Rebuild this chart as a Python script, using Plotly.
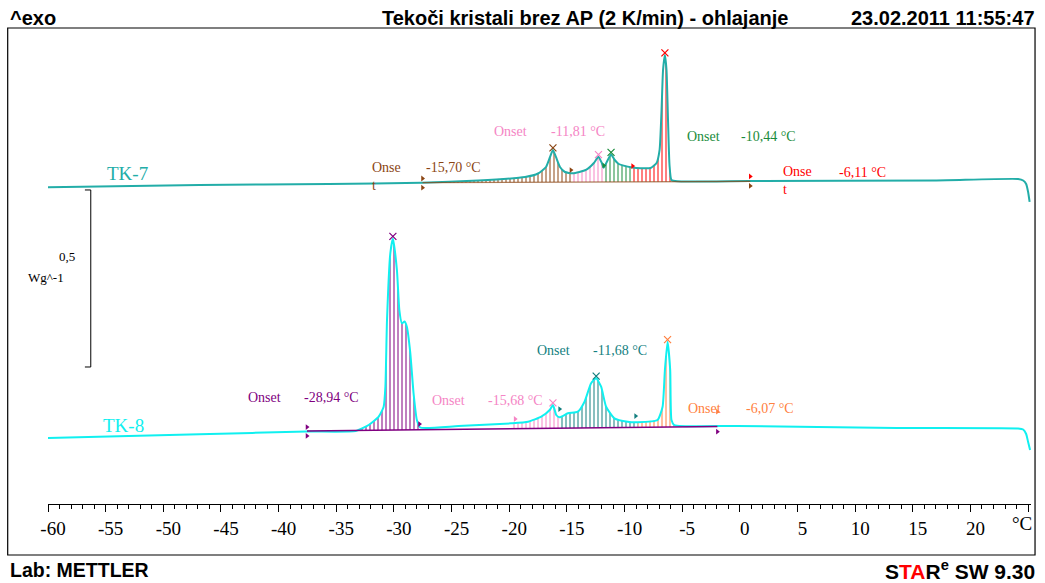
import plotly.graph_objects as go
import numpy as np

# ---------------- data (temperature in °C, heat flow in W/g, shifted for display) -------------
tk7_temp = [-60.0, -46.87, -35.64, -27.61, -22.68, -18.62, -17.50, -16.81, -16.46, -16.21, -15.95,
            -15.60, -15.17, -14.48, -13.35, -12.66, -12.26, -11.97, -11.80, -11.54, -11.17, -10.85,
            -10.50, -9.30, -8.60, -7.74, -7.22, -6.96, -6.79, -6.66, -6.50, -6.36, -6.23, -6.10,
            -5.93, -5.41, 0.81, 17.05, 24.13, 24.57, 24.83, 25.0, 25.13]
tk7_hf = [0.7082, 0.7147, 0.7175, 0.7212, 0.7274, 0.7373, 0.7472, 0.7655, 0.7938, 0.8136, 0.7938,
          0.7655, 0.7514, 0.7477, 0.7571, 0.7768, 0.7946, 0.7768, 0.7636, 0.7797, 0.8008, 0.7853,
          0.7740, 0.7641, 0.7619, 0.7627, 0.7768, 0.8136, 0.9266, 1.0395, 1.0819, 1.0395, 0.8983,
          0.7712, 0.7288, 0.7251, 0.7260, 0.7277, 0.7316, 0.7274, 0.7175, 0.6949, 0.6667]

tk8_temp = [-60.0, -46.87, -37.54, -33.31, -32.19, -31.32, -30.89, -30.74, -30.60, -30.31, -30.09,
            -29.74, -29.53, -29.31, -29.08, -28.88, -28.58, -28.30, -28.01, -27.72, -24.41, -19.83,
            -18.36, -17.22, -16.49, -16.21, -15.92, -15.63, -14.91, -14.05, -13.47, -12.90, -12.46,
            -12.03, -11.60, -10.88, -9.73, -8.86, -7.14, -6.70, -6.50, -6.27, -6.04, -5.93, -5.69,
            -0.23, 13.60, 24.13, 24.57, 24.83, 25.0, 25.17]
tk8_hf = [0.0, 0.0105, 0.0184, 0.0198, 0.0367, 0.0602, 0.0884, 0.1449, 0.3333, 0.5226, 0.5636,
          0.4746, 0.3616, 0.3240, 0.3291, 0.3144, 0.2401, 0.1271, 0.0508, 0.0297, 0.0339, 0.0415,
          0.0460, 0.0602, 0.0791, 0.0932, 0.0650, 0.0585, 0.0698, 0.0743, 0.1025, 0.1545, 0.1686,
          0.1449, 0.0884, 0.0556, 0.0460, 0.0446, 0.0508, 0.0884, 0.1921, 0.2720, 0.1921, 0.0508,
          0.0367, 0.0339, 0.0282, 0.0268, 0.0240, 0.0113, -0.0113, -0.0339]

# integration baselines (start / end)
tk7_base_temp = [-27.52, 0.90]
tk7_base_hf = [0.7212, 0.7251]
tk8_base_temp = [-37.54, -1.95]
tk8_base_hf = [0.0198, 0.0325]

# evaluated peak regions (index ranges into the curves) and colours
tk7_regions = [(3, 13), (13, 18), (18, 23), (23, 34)]
tk7_colors = ["#8B4513", "#F585C5", "#1A8C3C", "#FF0000"]
tk8_regions = [(2, 19), (21, 27), (27, 37), (37, 44)]
tk8_colors = ["#800080", "#F585C5", "#137F7F", "#FF8040"]

tk7_onsets = ["-15,70 °C", "-11,81 °C", "-10,44 °C", "-6,11 °C"]
tk8_onsets = ["-28,94 °C", "-15,68 °C", "-11,68 °C", "-6,07 °C"]

scale_bar_value = 0.5  # W/g

tick_vals = list(range(-60, 26, 5))
tick_text = ["-60", "-55", "-50", "-45", "-40", "-35", "-30", "-25", "-20", "-15", "-10",
             "-5", "0", "5", "10", "15", "20", " "]

TK7_COLOR = "#22ADA8"
TK8_COLOR = "#10F0F0"
SERIF = "Liberation Serif, Times New Roman, serif"
SANS = "Liberation Sans, Arial, sans-serif"

fig = go.Figure()


def add_regions(temp, hf, btemp, bhf, regions, colors):
    for (i0, i1), col in zip(regions, colors):
        xs = temp[i0:i1 + 1]
        ys = hf[i0:i1 + 1]
        bx = [xs[0], xs[-1]]
        by = list(np.interp(bx, btemp, bhf))
        fig.add_trace(go.Scatter(x=bx, y=by, mode="lines", line=dict(width=0, color=col),
                                 hoverinfo="skip"))
        fig.add_trace(go.Scatter(x=xs, y=ys, mode="lines", line=dict(width=0, color=col),
                                 fill="tonexty", fillcolor="rgba(0,0,0,0)",
                                 fillpattern=dict(shape="|", fgcolor=col, bgcolor="rgba(0,0,0,0)",
                                                  size=4, solidity=0.5),
                                 hoverinfo="skip"))


add_regions(tk7_temp, tk7_hf, tk7_base_temp, tk7_base_hf, tk7_regions, tk7_colors)
add_regions(tk8_temp, tk8_hf, tk8_base_temp, tk8_base_hf, tk8_regions, tk8_colors)

# curves
fig.add_trace(go.Scatter(x=tk7_temp, y=tk7_hf, mode="lines",
                         line=dict(color=TK7_COLOR, width=2, shape="spline", smoothing=0.5)))
fig.add_trace(go.Scatter(x=tk8_temp, y=tk8_hf, mode="lines",
                         line=dict(color=TK8_COLOR, width=2, shape="spline", smoothing=0.5)))

# baselines
fig.add_trace(go.Scatter(x=tk7_base_temp, y=tk7_base_hf, mode="lines",
                         line=dict(color="#8B4513", width=1.3), opacity=0.7))
fig.add_trace(go.Scatter(x=tk8_base_temp, y=tk8_base_hf, mode="lines",
                         line=dict(color="#800080", width=1.6)))

# peak markers
for temp, hf, regions, colors in [(tk7_temp, tk7_hf, tk7_regions, tk7_colors),
                                  (tk8_temp, tk8_hf, tk8_regions, tk8_colors)]:
    for (i0, i1), col in zip(regions, colors):
        seg = hf[i0:i1 + 1]
        k = i0 + int(np.argmax(seg))
        fig.add_trace(go.Scatter(x=[temp[k]], y=[hf[k] + 0.006], mode="markers",
                                 marker=dict(symbol="x-thin", size=7, line=dict(color=col, width=1.2))))

# integration limit flags
flag_t = [-27.52, -27.52, -14.65, -11.80, -9.30, 0.90, 0.90,
          -37.54, -37.54, -27.78, -19.49, -15.63, -9.04, -1.95, -1.95]
flag_v = [0.733, 0.707, 0.757, 0.770, 0.768, 0.739, 0.712,
          0.031, 0.006, 0.0395, 0.0537, 0.0819, 0.0621, 0.0743, 0.0178]
flag_c = ["#8B4513", "#8B4513", "#8B4513", "#1A8C3C", "#FF0000", "#FF0000", "#8B4513",
          "#800080", "#800080", "#800080", "#F585C5", "#137F7F", "#137F7F", "#FF8040", "#800080"]
fig.add_trace(go.Scatter(x=flag_t, y=flag_v, mode="markers",
                         marker=dict(symbol="triangle-right", size=5, color=flag_c)))

# scale bar 0.5 W/g
sb_x = [-56.80, -56.29, -56.29, -56.80]
sb_top = 0.7006
sb_y = [sb_top, sb_top, sb_top - scale_bar_value, sb_top - scale_bar_value]
fig.add_trace(go.Scatter(x=sb_x, y=sb_y, mode="lines", line=dict(color="black", width=1)))

ann = []


def txt(x, y, s, col, size=14, xanchor="left", family=SERIF, align="left"):
    ann.append(dict(x=x, y=y, text=s, showarrow=False, xanchor=xanchor, yanchor="middle",
                    font=dict(family=family, size=size, color=col), align=align))


# TK-7 onset labels
txt(-32.10, 0.7373, "Onse<br>t", tk7_colors[0])
txt(-27.40, 0.7655, tk7_onsets[0], tk7_colors[0])
txt(-21.47, 0.8672, "Onset", tk7_colors[1])
txt(-16.55, 0.8672, tk7_onsets[1], tk7_colors[1])
txt(-4.80, 0.8503, "Onset", tk7_colors[2])
txt(-0.10, 0.8503, tk7_onsets[2], tk7_colors[2])
txt(3.55, 0.7260, "Onse<br>t", tk7_colors[3])
txt(8.45, 0.7514, tk7_onsets[3], tk7_colors[3])
# TK-8 onset labels
txt(-42.85, 0.1158, "Onset", tk8_colors[0])
txt(-37.95, 0.1158, tk8_onsets[0], tk8_colors[0])
txt(-26.90, 0.1073, "Onset", tk8_colors[1])
txt(-22.05, 0.1073, tk8_onsets[1], tk8_colors[1])
txt(-17.80, 0.2486, "Onset", tk8_colors[2])
txt(-12.90, 0.2486, tk8_onsets[2], tk8_colors[2])
txt(-4.70, 0.0847, "Onset", tk8_colors[3])
txt(0.35, 0.0847, tk8_onsets[3], tk8_colors[3])

# curve names
txt(-53.09, 0.7458, "TK-7", TK7_COLOR, size=19, xanchor="center")
txt(-53.44, 0.0367, "TK-8", TK8_COLOR, size=19, xanchor="center")

# scale bar labels
txt(-58.36, 0.5141, "0,5", "black", size=13, xanchor="center")
ann.append(dict(x=(46 - 48) / 987, xref="paper", y=0.4520, yref="y", text="Wg^-1",
                showarrow=False, xanchor="center", yanchor="middle",
                font=dict(family=SERIF, size=13, color="black")))

# unit label at axis end
ann.append(dict(x=25.0, xref="x", y=-0.042, yref="paper", text="°C", showarrow=False,
                xanchor="right", yanchor="middle", xshift=6,
                font=dict(family=SERIF, size=19, color="black")))


# header / footer texts (paper coordinates)
def ptxt(x, y, s, size, xanchor):
    ann.append(dict(x=x, y=y, xref="paper", yref="paper", text=s, showarrow=False,
                    xanchor=xanchor, yanchor="middle",
                    font=dict(family=SANS, size=size, color="black")))


ptxt(-0.0405, 1.0253, "<b>^exo</b>", 20, "left")
ptxt(0.5460, 1.0253, "<b>Tekoči kristali brez AP (2 K/min) - ohlajanje</b>", 20, "center")
ptxt(1.0060, 1.0253, "<b>23.02.2011 11:55:47</b>", 20, "right")
ptxt(-0.0405, -0.1400, "<b>Lab: METTLER</b>", 19.5, "left")
ptxt(1.0060, -0.1390,
     "<b>S<span style='color:#FF0000'>TA</span>R<sup>e</sup> SW 9.30</b>", 21, "right")

fig.update_layout(
    width=1045, height=583,
    margin=dict(l=48, r=10, t=30, b=79),
    paper_bgcolor="white", plot_bgcolor="white",
    font=dict(family=SERIF, color="black"),
    showlegend=False,
    annotations=ann,
    shapes=[dict(type="rect", xref="paper", yref="paper", x0=-0.0410, x1=1.0041,
                 y0=-0.1076, y1=1.0042, line=dict(color="black", width=1.2))],
    xaxis=dict(range=[-60, 25.25], showgrid=False, zeroline=False, showline=True,
               linecolor="black", linewidth=1, ticks="outside", ticklen=7, tickwidth=1,
               tickcolor="black", tickmode="array", tickvals=tick_vals, ticktext=tick_text,
               tickfont=dict(family=SERIF, size=19, color="black"), ticklabelshift=5,
               minor=dict(dtick=1, tick0=-60, ticks="outside", ticklen=4, tickwidth=1,
                          tickcolor="black", showgrid=False),
               fixedrange=True),
    yaxis=dict(range=[-0.1864, 1.1525], visible=False, fixedrange=True),
)

fig.write_html("out.html")
